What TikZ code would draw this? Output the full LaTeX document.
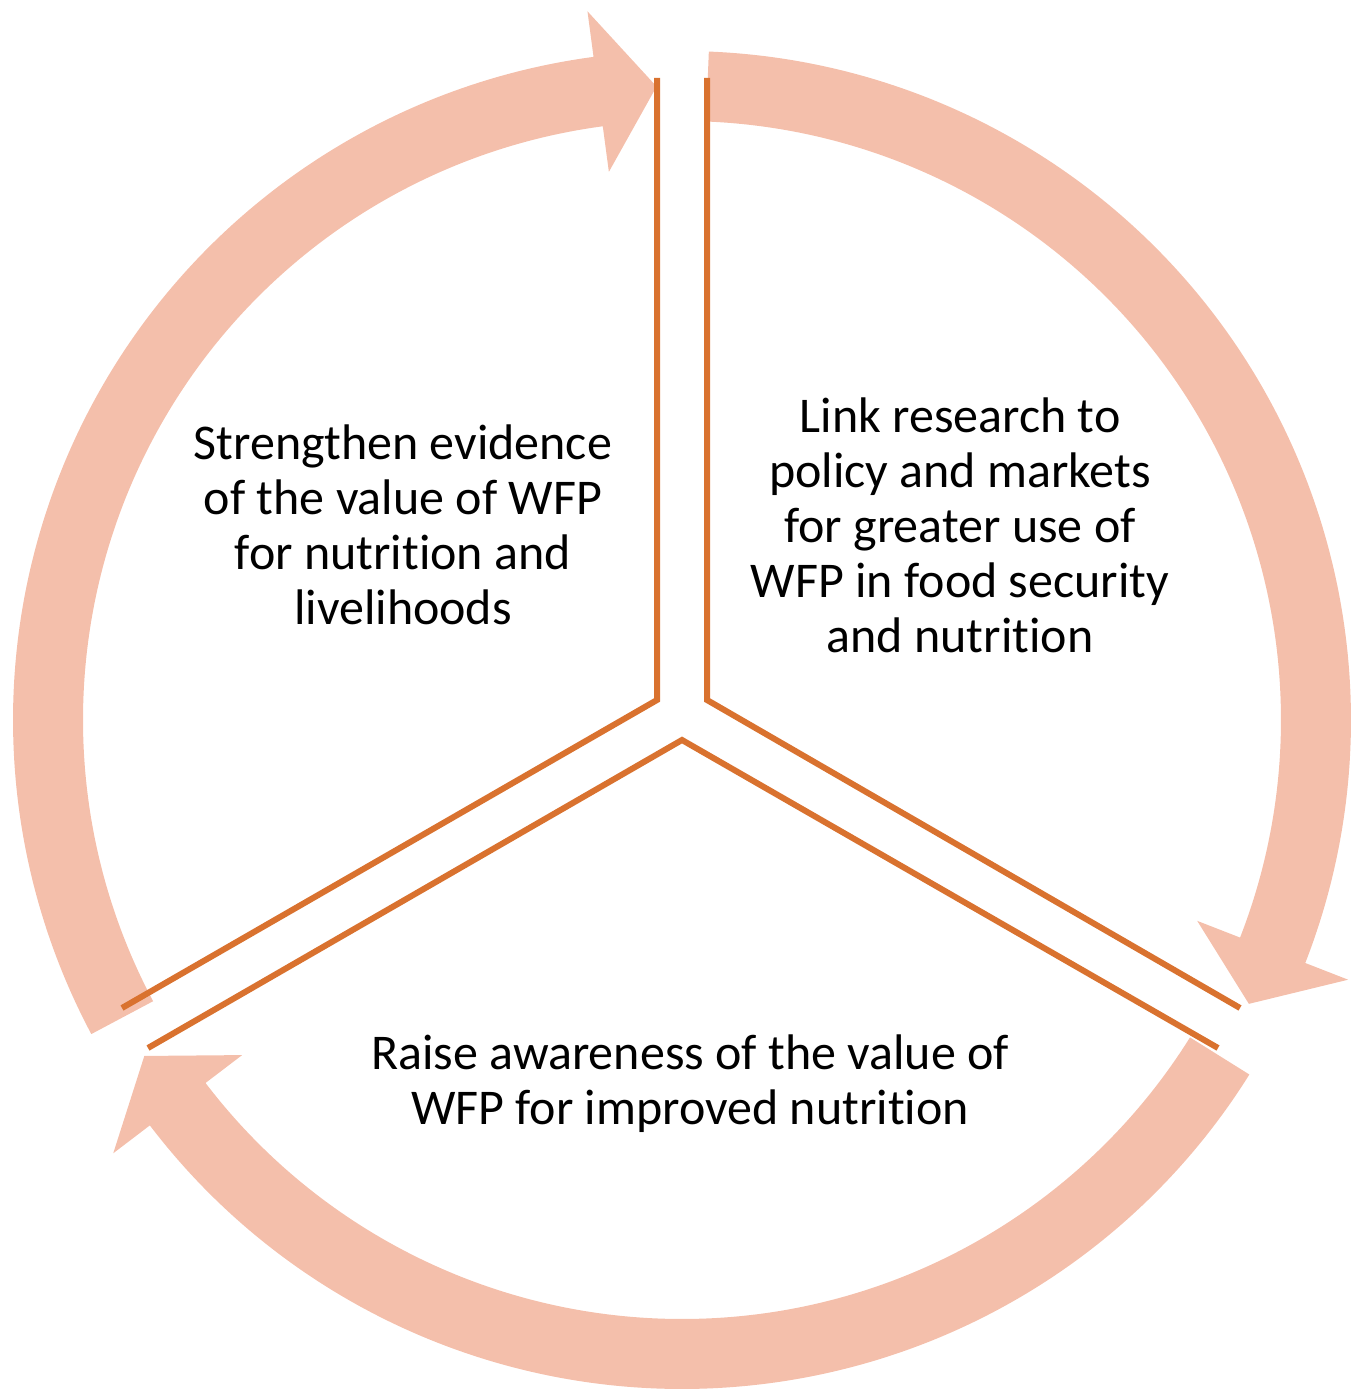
\documentclass[tikz,border=0pt]{standalone}
\usepackage{fontspec}
\setmainfont{Carlito}[Ligatures=NoCommon]
\definecolor{ringc}{HTML}{F4BFAB}
\definecolor{divc}{HTML}{D9722F}
\begin{document}
\begin{tikzpicture}[x=1pt,y=1pt,
  ring/.style={fill=ringc,draw=none},
  divider/.style={draw=divc,line width=6pt,line join=miter},
  lbl/.style={align=center,font=\fontsize{50}{55}\selectfont}]
\useasboundingbox (0,0) rectangle (1361,1397);
\begin{scope}[shift={(682,677)}]
\foreach \aone/\ab/\at in {208/97.6/92.3, 87.7/-21.3/-26.6, -32/-142.7/-148}{
  \fill[ring] (\aone:599) arc[start angle=\aone, end angle=\ab, radius=599]
    -- (\ab:553) -- (\at:634) -- (\ab:715) -- (\ab:669)
    arc[start angle=\ab, end angle=\aone, radius=669] -- cycle;
}
\end{scope}
\coordinate (lt) at (657,1319); \coordinate (lm) at (657,697); \coordinate (lb) at (122,389);
\coordinate (rt) at (707,1319); \coordinate (rm) at (707,697); \coordinate (rb) at (1240,389);
\coordinate (bm) at (682,657); \coordinate (bl) at (148,349); \coordinate (br) at (1218,349);
\draw[divider] (lt) -- (lm) -- (lb);
\draw[divider] (rt) -- (rm) -- (rb);
\draw[divider] (bl) -- (bm) -- (br);
\node[lbl] (t1) at (403,872) {Strengthen evidence\\of the value of WFP\\for nutrition and\\livelihoods};
\node[lbl] (t2) at (960,872) {Link research to\\policy and markets\\for greater use of\\WFP in food security\\and nutrition};
\node[lbl] (t3) at (690,313) {Raise awareness of the value of\\WFP for improved nutrition};
\end{tikzpicture}
\end{document}
